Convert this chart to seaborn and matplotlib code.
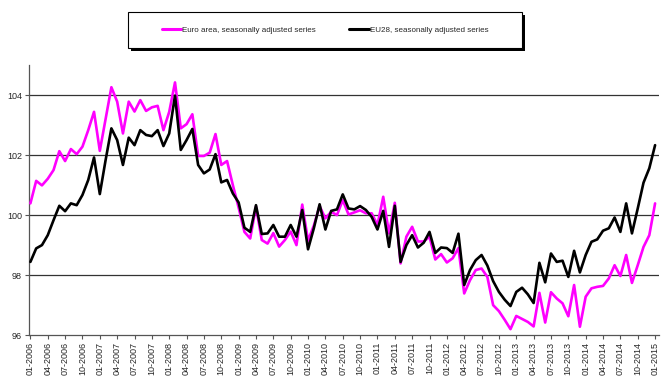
import pandas as pd
import numpy as np
import matplotlib
matplotlib.use("Agg")
import matplotlib.pyplot as plt
from matplotlib.patches import Rectangle
import seaborn as sns

# monthly index, 01-2006 .. 01-2015
months = [f"{m:02d}-{y}" for y in range(2006, 2016) for m in range(1, 13)][:109]

euro_area = [
    100.39, 101.14, 100.99, 101.21, 101.50, 102.13, 101.80, 102.20, 102.03, 102.28, 102.83, 103.44,
    102.14, 103.20, 104.26, 103.78, 102.72, 103.78, 103.45, 103.83, 103.47, 103.59, 103.64, 102.83,
    103.44, 104.42, 102.89, 103.03, 103.36, 101.97, 101.97, 102.08, 102.70, 101.67, 101.80, 101.00,
    100.25, 99.44, 99.22, 100.28, 99.17, 99.05, 99.40, 98.95, 99.17, 99.45, 99.00, 100.35,
    99.15, 99.65, 100.30, 99.89, 100.11, 100.00, 100.50, 100.02, 100.09, 100.16, 100.06, 100.06,
    99.67, 100.61, 99.39, 100.41, 98.39, 99.28, 99.61, 99.12, 99.12, 99.28, 98.52, 98.70,
    98.42, 98.56, 98.90, 97.39, 97.83, 98.17, 98.22, 97.94, 97.00, 96.80, 96.51, 96.20,
    96.64, 96.54, 96.44, 96.29, 97.41, 96.42, 97.43, 97.22, 97.06, 96.63, 97.67, 96.28,
    97.28, 97.56, 97.61, 97.64, 97.89, 98.33, 97.97, 98.67, 97.74, 98.33, 98.94, 99.33,
    100.39,
]

eu28 = [
    98.44, 98.89, 99.00, 99.33, 99.83, 100.31, 100.13, 100.39, 100.33, 100.67, 101.17, 101.92,
    100.70, 101.83, 102.89, 102.50, 101.67, 102.58, 102.33, 102.83, 102.67, 102.63, 102.83, 102.30,
    102.72, 103.98, 102.17, 102.50, 102.87, 101.67, 101.39, 101.52, 102.03, 101.09, 101.17, 100.72,
    100.42, 99.58, 99.44, 100.33, 99.37, 99.39, 99.67, 99.28, 99.28, 99.67, 99.28, 100.17,
    98.86, 99.56, 100.36, 99.52, 100.14, 100.19, 100.69, 100.22, 100.19, 100.30, 100.17, 99.94,
    99.52, 100.14, 98.94, 100.31, 98.44, 99.00, 99.33, 98.92, 99.08, 99.44, 98.74, 98.92,
    98.90, 98.74, 99.38, 97.67, 98.17, 98.50, 98.67, 98.32, 97.80, 97.44, 97.18, 96.97,
    97.44, 97.58, 97.36, 97.07, 98.41, 97.76, 98.72, 98.44, 98.48, 97.94, 98.81, 98.09,
    98.67, 99.11, 99.19, 99.48, 99.56, 99.92, 99.44, 100.39, 99.39, 100.22, 101.08, 101.56,
    102.33,
]

series_names = ["Euro area, seasonally adjusted series", "EU28, seasonally adjusted series"]
colors = ["#FF00FF", "#000000"]

df = pd.DataFrame({
    "t": list(range(len(months))) * 2,
    "value": euro_area + eu28,
    "series": [series_names[0]] * len(months) + [series_names[1]] * len(months),
})

sns.set_style("white")
plt.rcParams["font.family"] = ["Liberation Sans", "DejaVu Sans"]

fig = plt.figure(figsize=(6.72, 3.87), dpi=100)
ax = fig.add_axes([0.043, 0.134, 0.937, 0.698])

sns.lineplot(data=df, x="t", y="value", hue="series", palette=colors,
             linewidth=1.9, ax=ax, legend=False, zorder=3)

ax.set_xlim(-0.26, 108.6)
ax.set_ylim(96, 105)
ax.set_yticks([96, 98, 100, 102, 104])
ax.set_yticklabels(["96", "98", "100", "102", "104"], fontsize=6.5)
ticks = list(range(0, len(months), 3))
ax.set_xticks(ticks)
ax.set_xticklabels([months[i] for i in ticks], rotation=90, fontsize=6.5)
ax.set_xlabel("")
ax.set_ylabel("")

for v in [98, 100, 102, 104]:
    ax.axhline(v, color="#333333", linewidth=0.9, zorder=1)

for side in ["top", "right"]:
    ax.spines[side].set_visible(False)
for side in ["left", "bottom"]:
    ax.spines[side].set_color("#555555")
    ax.spines[side].set_linewidth(0.9)
ax.tick_params(axis="both", which="both", direction="out", length=3, width=0.8,
               color="#555555", pad=2, bottom=True, left=True)

# legend box with drop shadow
W, H = 672, 387
bx, by, bw, bh = 128 / W, 1 - 48 / H, 394 / W, 36 / H
fig.patches.append(Rectangle((bx + 3 / W, by - 3 / H), bw, bh, transform=fig.transFigure,
                             facecolor="black", edgecolor="none", zorder=0))
fig.patches.append(Rectangle((bx, by), bw, bh, transform=fig.transFigure,
                             facecolor="white", edgecolor="black", linewidth=0.8, zorder=1))

handles = [plt.Line2D([], [], color=c, linewidth=2.2) for c in colors]
fig.legend(handles, series_names, loc="center", bbox_to_anchor=(325 / W, 1 - 30 / H),
           ncol=2, frameon=False, fontsize=5.8, handlelength=2.4, handletextpad=0.1,
           columnspacing=4.2, borderaxespad=0)

fig.savefig("out.png", dpi=100)
